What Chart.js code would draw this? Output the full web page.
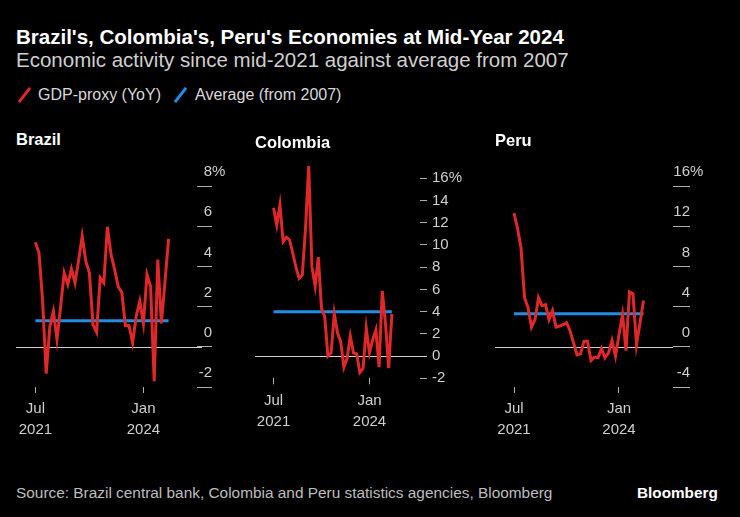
<!DOCTYPE html>
<html><head><meta charset="utf-8">
<script src="https://cdn.jsdelivr.net/npm/chart.js@4"></script>
<style>
html,body{margin:0;padding:0;background:#000;}
body{width:740px;height:517px;position:relative;overflow:hidden;font-family:"Liberation Sans",Arial,sans-serif;color:#fff;}
.t{position:absolute;white-space:nowrap;line-height:1;}
#title{left:16px;top:27px;font-size:20.5px;font-weight:bold;color:#fff;}
#sub{left:16px;top:50px;font-size:20.5px;color:#cfcfcf;}
.leg{top:87px;font-size:16px;color:#d8d8d8;}
.sw{position:absolute;width:3px;height:18px;top:86px;transform:rotate(38deg);}
.ptitle{font-size:16.5px;font-weight:bold;color:#fff;z-index:2;}
#src{left:16px;top:485px;font-size:15.4px;color:#bdbdbd;}
#bb{left:637px;top:485px;font-size:15.3px;font-weight:bold;color:#fff;}
canvas{position:absolute;}
</style></head>
<body>
<div class="t" id="title">Brazil's, Colombia's, Peru's Economies at Mid-Year 2024</div>
<div class="t" id="sub">Economic activity since mid-2021 against average from 2007</div>
<div class="sw" style="left:23px;background:#e0282a"></div>
<div class="t leg" style="left:38px">GDP-proxy (YoY)</div>
<div class="sw" style="left:179px;background:#1f8fe3"></div>
<div class="t leg" style="left:195px">Average (from 2007)</div>
<div class="t ptitle" style="left:16px;top:131px">Brazil</div>
<div class="t ptitle" style="left:255px;top:133.5px">Colombia</div>
<div class="t ptitle" style="left:495px;top:132px">Peru</div>
<canvas id="cBr" width="240" height="300" style="left:0;top:150px"></canvas>
<canvas id="cCo" width="240" height="310" style="left:240px;top:140px"></canvas>
<canvas id="cPe" width="260" height="300" style="left:480px;top:150px"></canvas>
<div class="t" id="src">Source: Brazil central bank, Colombia and Peru statistics agencies, Bloomberg</div>
<div class="t" id="bb">Bloomberg</div>
<script>
// Months (Jul 2021 onward)
const months = ['Jul 2021','Aug 2021','Sep 2021','Oct 2021','Nov 2021','Dec 2021',
  'Jan 2022','Feb 2022','Mar 2022','Apr 2022','May 2022','Jun 2022','Jul 2022','Aug 2022','Sep 2022','Oct 2022','Nov 2022','Dec 2022',
  'Jan 2023','Feb 2023','Mar 2023','Apr 2023','May 2023','Jun 2023','Jul 2023','Aug 2023','Sep 2023','Oct 2023','Nov 2023','Dec 2023',
  'Jan 2024','Feb 2024','Mar 2024','Apr 2024','May 2024','Jun 2024','Jul 2024','Aug 2024'];

const brazilGdp = [5.2, 4.67, 2.3, -1.33, 1.0, 1.77, 0.36, 2.0, 3.68, 3.1, 3.88, 3.18, 4.3, 5.5, 4.26, 3.68, 1.1, 0.73, 3.43, 3.18,
  5.97, 4.6, 3.85, 3.0, 2.7, 1.06, 1.06, 0.2, 1.52, 2.27, 1.16, 3.6, 3.0, -1.71, 4.34, 1.16, 3.26, 5.37];
const colombiaGdp = [13.36, 11.8, 13.6, 10.3, 10.7, 10.45, 9.3, 8.0, 7.0, 7.3, 11.5, 17.1, 8.05, 6.3, 8.9, 4.3, 3.56, 0, 0.3, 3.8,
  2.07, 1.3, -1.0, -0.2, 1.8, 0.3, 0.2, -1.47, -1.1, 2.5, 0.3, 1.47, 2.36, -1.0, 5.87, 2.97, -1.08, 3.8];
const peruGdp = [13.3, 11.8, 9.85, 4.9, 3.9, 1.95, 2.7, 4.9, 4.1, 4.2, 2.7, 3.6, 1.95, 2.05, 2.2, 2.4, 1.6, 0.4, -0.8, -0.7,
  0.56, 0.56, -1.36, -1.03, -1.1, -0.17, -1.1, -0.6, 0.63, -0.93, 1.2, 3.2, -0.37, 5.47, 5.27, 0.23, 2.4, 4.6];

const brazilAvg = 1.3;
const colombiaAvg = 4.0;
const peruAvg = 3.3;

const xTickMonths = ['Jul 2021', 'Jan 2024'];
const xTickLabels = [['Jul', '2021'], ['Jan', '2024']];
const brazilYTicks = [-2, 0, 2, 4, 6, 8];
const colombiaYTicks = [-2, 0, 2, 4, 6, 8, 10, 12, 14, 16];
const peruYTicks = [-4, 0, 4, 8, 12, 16];

const RED = '#e0282a', BLUE = '#1f8fe3';
const FONT = '"Liberation Sans", Arial, sans-serif';
Chart.defaults.font.family = FONT;

const zeroLine = {
  id: 'zeroLine',
  beforeDatasetsDraw(chart, args, opts) {
    const y = Math.round(chart.scales.y.getPixelForValue(0)) + 0.5;
    const {left, right} = chart.chartArea;
    const ctx = chart.ctx;
    ctx.save();
    ctx.strokeStyle = '#d0d0d0'; ctx.lineWidth = 1;
    ctx.beginPath(); ctx.moveTo(left, y); ctx.lineTo(right + (opts.extend || 0), y); ctx.stroke();
    ctx.restore();
  }
};
const aboveTickLabels = {
  id: 'aboveTickLabels',
  afterDraw(chart, args, opts) {
    if (!opts.enabled) return;
    const s = chart.scales.y, ctx = chart.ctx;
    const xr = chart.chartArea.right + opts.tickLength;
    ctx.save();
    ctx.font = '15px ' + FONT; ctx.fillStyle = '#cfcfcf'; ctx.textBaseline = 'middle';
    s.ticks.forEach((t, i) => {
      const y = s.getPixelForValue(t.value) - opts.offset;
      ctx.textAlign = 'right'; ctx.fillText(String(t.value), xr, y);
      if (i === s.ticks.length - 1) { ctx.textAlign = 'left'; ctx.fillText('%', xr, y); }
    });
    ctx.restore();
  }
};

function makeChart(id, values, avg, cfg) {
  const pts = values.map((v, i) => ({x: i, y: v}));
  const avgPts = [{x: 0, y: avg}, {x: values.length - 1, y: avg}];
  const tickIdx = xTickMonths.map(m => months.indexOf(m));
  const yAxis = {
    type: 'linear', position: 'right', min: cfg.ymin, max: cfg.ymax,
    afterBuildTicks: s => { s.ticks = cfg.yTicks.map(v => ({value: v})); },
    afterFit: s => { s.width = cfg.yWidth; },
    border: {display: false},
    grid: {drawOnChartArea: false, drawTicks: true, tickLength: cfg.yTickLen, color: '#b0b0b0'},
    ticks: cfg.aboveLabels ? {display: false} : {
      display: true, color: '#cfcfcf', font: {size: 15}, padding: 5,
      callback: (v) => v === cfg.yTicks[cfg.yTicks.length - 1] ? v + '%' : String(v)
    }
  };
  return new Chart(document.getElementById(id), {
    type: 'line',
    data: {datasets: [
      {data: pts, borderColor: RED, borderWidth: 3, pointRadius: 0, tension: 0, fill: false},
      {data: avgPts, borderColor: BLUE, borderWidth: 3, pointRadius: 0, tension: 0, fill: false}
    ]},
    options: {
      responsive: false, animation: false, devicePixelRatio: 1,
      layout: {padding: cfg.padding},
      plugins: {legend: {display: false}, tooltip: {enabled: false},
        zeroLine: {extend: cfg.zeroExtend},
        aboveTickLabels: {enabled: cfg.aboveLabels, tickLength: cfg.yTickLen, offset: 14}},
      scales: {
        x: {
          type: 'linear', min: cfg.xmin, max: cfg.xmax,
          afterBuildTicks: s => { s.ticks = tickIdx.map(v => ({value: v})); },
          afterFit: s => { s.height = cfg.xHeight; },
          border: {display: false},
          grid: {drawOnChartArea: false, drawTicks: true, tickLength: 6, color: '#b0b0b0'},
          ticks: {color: '#cfcfcf', font: {size: 15, lineHeight: 1.4}, padding: cfg.xPad, maxRotation: 0, autoSkip: false,
            callback: (v, i) => xTickLabels[i]}
        },
        y: yAxis
      }
    },
    plugins: [zeroLine, aboveTickLabels]
  });
}

makeChart('cBr', brazilGdp, brazilAvg, {
  ymin: -2, ymax: 8, yTicks: brazilYTicks, yWidth: 43, yTickLen: 15, aboveLabels: true,
  xmin: -5.39, xmax: 44.89, xHeight: 63, xPad: 5, zeroExtend: 5,
  padding: {left: 16, top: 36, right: 0, bottom: 0}
});
makeChart('cCo', colombiaGdp, colombiaAvg, {
  ymin: -2, ymax: 18, yTicks: colombiaYTicks, yWidth: 60, yTickLen: 7, aboveLabels: false,
  xmin: -5.8, xmax: 45.8, xHeight: 71.7, xPad: 6, zeroExtend: 7,
  padding: {left: 15, top: 16.1, right: 0, bottom: 0}
});
makeChart('cPe', peruGdp, peruAvg, {
  ymin: -4, ymax: 16, yTicks: peruYTicks, yWidth: 67, yTickLen: 17, aboveLabels: true,
  xmin: -5.43, xmax: 45.43, xHeight: 63, xPad: 5, zeroExtend: 0,
  padding: {left: 15, top: 36, right: 0, bottom: 0}
});
</script>
</body></html>
